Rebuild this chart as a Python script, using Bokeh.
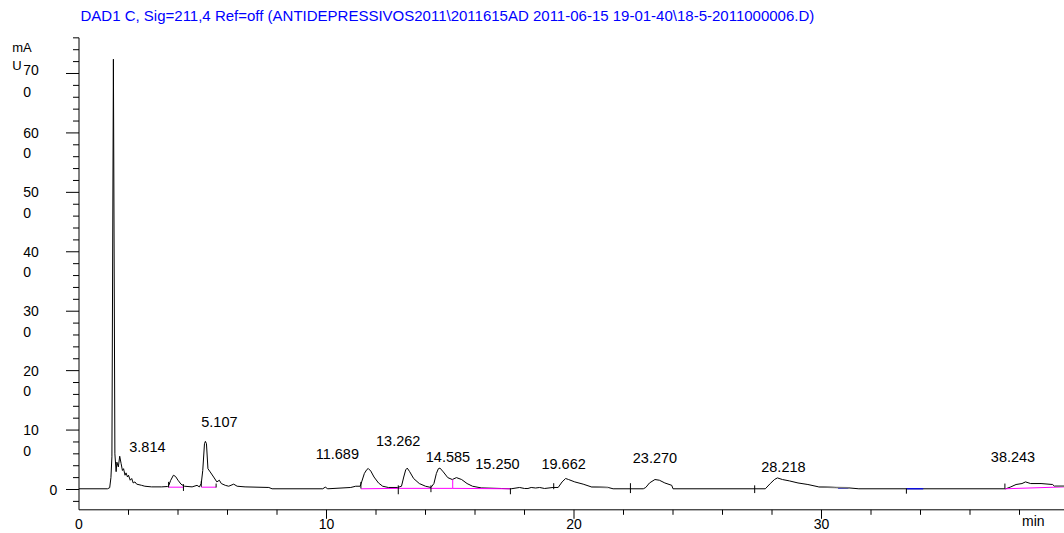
from bokeh.plotting import figure
from bokeh.models import Range1d
from bokeh.core.properties import value
from bokeh.embed import file_html
from bokeh.resources import INLINE

# ---- DAD1 C, Sig=211,4 chromatogram (retention time in min, absorbance in mAU) ----
time_min = [
    0.00, 1.15, 1.24, 1.29, 1.33, 1.39, 1.45, 1.50, 1.53, 1.59, 1.645, 1.70, 1.755,
    1.80, 1.86, 1.90, 1.96, 2.00, 2.07, 2.13, 2.19, 2.26, 2.33, 2.53, 2.66, 2.93,
    3.34, 3.58, 3.63, 3.70, 3.814, 3.90, 4.00, 4.12, 4.26, 4.57, 4.77, 4.86, 4.94,
    5.00, 5.07, 5.107, 5.15, 5.21, 5.30, 5.44, 5.57, 5.67, 5.75, 5.91, 6.05, 6.25,
    6.39, 6.71, 7.67, 7.80, 9.85, 9.95, 10.05, 10.98, 11.18, 11.36, 11.42, 11.53,
    11.63, 11.689, 11.79, 11.92, 12.10, 12.27, 12.50, 12.87, 13.03, 13.12, 13.20,
    13.262, 13.36, 13.52, 13.75, 14.00, 14.22, 14.34, 14.44, 14.52, 14.585, 14.72,
    14.90, 15.08, 15.250, 15.46, 15.68, 15.90, 16.25, 17.06, 17.46, 17.80, 18.00,
    18.14, 18.27, 18.45, 18.61, 18.81, 19.15, 19.36, 19.52, 19.662, 19.78, 20.03,
    20.37, 20.70, 21.38, 21.58, 22.80, 22.90, 23.05, 23.270, 23.45, 23.67, 23.95,
    24.00, 27.73, 27.93, 28.10, 28.218, 28.42, 28.70, 29.05, 29.45, 29.89, 30.56,
    31.10, 31.51, 37.45, 37.65, 37.86, 38.10, 38.243, 38.45, 38.87, 39.34, 39.41,
    39.82,
]
signal_mau = [
    1.2, 1.2, 3.0, 20.0, 55.0, 724.0, 60.0, 30.0, 46.0, 38.0, 56.0, 44.0, 32.0,
    35.0, 24.0, 28.0, 21.0, 24.0, 15.6, 18.5, 11.0, 12.8, 9.0, 7.0, 5.5, 4.4,
    4.4, 5.0, 7.0, 15.0, 24.0, 22.0, 15.6, 9.0, 5.5, 4.4, 7.0, 4.4, 10.0,
    32.0, 77.0, 81.0, 77.0, 35.0, 29.6, 21.0, 12.8, 15.6, 10.0, 7.0, 5.5, 9.0,
    5.5, 4.4, 3.4, 1.2, 1.2, 4.0, 1.2, 3.4, 5.5, 5.5, 12.8, 27.0,
    33.6, 35.3, 31.0, 21.0, 11.0, 5.5, 3.4, 3.4, 5.5, 21.0, 33.0,
    36.0, 30.0, 18.5, 10.0, 5.5, 3.4, 10.0, 27.0, 35.0, 36.0, 29.6,
    20.0, 16.8, 20.0, 16.8, 10.0, 5.5, 2.7, 1.7, 1.2, 3.4, 1.7,
    1.7, 3.4, 2.5, 3.4, 1.7, 3.4, 3.4, 12.8, 18.5, 16.8, 12.8,
    9.0, 4.4, 3.4, 1.2, 1.2, 3.4, 11.0, 16.8, 15.6, 11.0, 7.0,
    1.2, 1.2, 10.0, 16.8, 19.5, 16.8, 14.5, 11.0, 8.4, 4.4, 3.4,
    2.7, 1.2, 1.2, 4.4, 8.4, 10.0, 12.8, 10.0, 10.0, 8.4, 5.5,
    5.5,
]

# Integrated peaks (retention times) and where their labels sit
peak_rt = [3.814, 5.107, 11.689, 13.262, 14.585, 15.250, 19.662, 23.270, 28.218, 38.243]
label_center_mau = [70.7, 114.4, 58.9, 80.8, 55.5, 43.7, 43.7, 53.8, 37.9, 55.5]
label_shift_px = [-26, 14, -31, -9, 8, 41, -2, 0, 6, -12.5]

# Integration baselines (magenta) incl. one drop line, blue and grey baseline pieces
mag_x0 = [3.62, 4.94, 11.39, 12.90, 14.22, 15.10, 37.41, 15.10]
mag_y0 = [3.9, 3.9, 1.2, 1.9, 1.9, 1.9, 1.2, 1.9]
mag_x1 = [4.22, 5.54, 12.90, 14.22, 15.10, 17.43, 39.82, 15.10]
mag_y1 = [3.9, 3.9, 1.9, 1.9, 1.9, 1.2, 4.4, 16.8]

blue_x0 = [30.67, 33.43]
blue_x1 = [31.08, 34.11]
blue_y = [2.2, 1.2]

grey_x0 = [20.70, 29.89, 30.56, 39.41]
grey_y0 = [4.4, 4.4, 3.4, 5.5]
grey_x1 = [21.38, 30.56, 31.10, 39.82]
grey_y1 = [3.4, 3.4, 2.7, 5.5]

# Peak start / end tick marks
mark_t = [3.62, 4.22, 4.94, 5.54, 11.39, 12.90, 14.22, 17.43, 19.18, 22.28, 27.30, 33.43, 37.41]
mark_lo = [3.4, -2.4, 4.4, 3.4, 1.7, -8.0, -4.5, -8.0, 0.5, -6.0, -6.0, -7.0, 1.7]
mark_hi = [12.8, 9.0, 14.0, 10.0, 12.8, 7.0, 7.0, 2.0, 10.6, 10.6, 7.0, 1.7, 10.0]

# Axes
x_major = [0, 10, 20, 30]
x_minor = [t for t in range(2, 40, 2) if t % 10]
y_major = [0, 100, 200, 300, 400, 500, 600, 700]
y_minor = [v for v in range(-20, 761, 20) if v % 100]
x_unit = "min"
y_unit = ["mA", "U"]

title_text = ("DAD1 C, Sig=211,4 Ref=off (ANTIDEPRESSIVOS2011\\2011615AD "
              "2011-06-15 19-01-40\\18-5-2011000006.D)")

# ---- layout: the data frame spans the whole page; axes are drawn on it ----
W, H = 1064, 533
PX_PER_MIN = 24.75            # horizontal scale
PX_PER_MAU = 0.5943           # vertical scale
ZERO_X, ZERO_Y = 78.5, 489.0  # page position of t = 0 min, 0 mAU
FONT = value("Liberation Sans")


def dx(px):
    """page x (px) -> minutes"""
    return (px - ZERO_X) / PX_PER_MIN


def dy(py):
    """page y (px from top) -> mAU"""
    return (ZERO_Y - py) / PX_PER_MAU


def lx(n):
    """n px as a horizontal length in minutes"""
    return n / PX_PER_MIN


def ly(n):
    """n px as a vertical length in mAU"""
    return n / PX_PER_MAU


p = figure(width=W, height=H, output_backend="svg", toolbar_location=None,
           x_range=Range1d(dx(0), dx(W)), y_range=Range1d(dy(H), dy(0)),
           x_axis_location=None, y_axis_location=None,
           min_border=0, min_border_left=0, min_border_right=0,
           min_border_top=0, min_border_bottom=0)
p.outline_line_color = None
p.grid.visible = False
p.background_fill_color = "white"
p.border_fill_color = "white"

x_axis_y = dy(509.3)
y_top = 760

# axis lines
p.segment(x0=[0, 0], y0=[x_axis_y, x_axis_y], x1=[0, dx(W)], y1=[y_top, x_axis_y],
          line_color="black", line_width=1)
# y ticks (outward, to the left)
p.segment(x0=[-lx(13)] * len(y_major), y0=y_major, x1=[0] * len(y_major), y1=y_major,
          line_color="black", line_width=1)
p.segment(x0=[-lx(6)] * len(y_minor), y0=y_minor, x1=[0] * len(y_minor), y1=y_minor,
          line_color="black", line_width=1)
# x ticks (outward, downward)
p.segment(x0=x_major[1:], y0=[x_axis_y] * 3, x1=x_major[1:], y1=[x_axis_y - ly(9)] * 3,
          line_color="black", line_width=1)
p.segment(x0=x_minor, y0=[x_axis_y] * len(x_minor), x1=x_minor,
          y1=[x_axis_y - ly(5)] * len(x_minor), line_color="black", line_width=1)

# chromatogram trace
p.line(time_min, signal_mau, line_color="black", line_width=1)

# integration baselines and marks
p.segment(x0=mag_x0, y0=mag_y0, x1=mag_x1, y1=mag_y1, line_color="#ff00ff", line_width=1)
p.segment(x0=blue_x0, y0=blue_y, x1=blue_x1, y1=blue_y, line_color="#0000ff", line_width=1.2)
p.segment(x0=grey_x0, y0=grey_y0, x1=grey_x1, y1=grey_y1, line_color="#777777", line_width=1.6)
p.segment(x0=mark_t, y0=mark_lo, x1=mark_t, y1=mark_hi, line_color="black", line_width=1)

TEXT = dict(text_font=FONT, text_baseline="middle", text_color="black")

# peak retention-time labels
p.text(x=peak_rt, y=label_center_mau, x_offset=label_shift_px,
       text=[f"{rt:.3f}" for rt in peak_rt], text_font_size=value("14.5px"),
       text_align="center", **TEXT)

# y tick labels: hundreds wrapped over two lines ("60" / "0")
upper, lower, ty_up, ty_lo = [], [], [], []
for v in y_major[1:]:
    lift = 3 if v == y_major[-1] else 0
    upper.append(str(v // 10))
    ty_up.append(v + ly(lift))
    lower.append(str(v)[-1])
    ty_lo.append(v - ly(20.5 - lift + (1 if lift else 0)))
p.text(x=[dx(22.7)] * len(upper), y=ty_up, text=upper, text_font_size=value("14px"),
       text_align="left", **TEXT)
p.text(x=[dx(22.7)] * len(lower), y=ty_lo, text=lower, text_font_size=value("14px"),
       text_align="left", **TEXT)
p.text(x=[dx(49)], y=[y_major[0]], text=[str(y_major[0])], text_font_size=value("14px"),
       text_align="left", **TEXT)

# x tick labels
p.text(x=x_major, y=[dy(523)] * len(x_major), text=[str(t) for t in x_major],
       text_font_size=value("14px"), text_align="center", **TEXT)

# unit labels
p.text(x=[dx(11.7), dx(11.7)], y=[dy(47), dy(64.5)], text=y_unit,
       text_font_size=value("13px"), text_align="left", **TEXT)
p.text(x=[dx(1021.5)], y=[dy(520.5)], text=[x_unit], text_font_size=value("14px"),
       text_align="left", **TEXT)

# signal description
p.text(x=[dx(80)], y=[dy(15)], text=[title_text], text_font=FONT,
       text_font_size=value("15px"), text_align="left", text_baseline="middle",
       text_color="#0000ff")

open("out.html", "w").write(file_html(p, INLINE))
